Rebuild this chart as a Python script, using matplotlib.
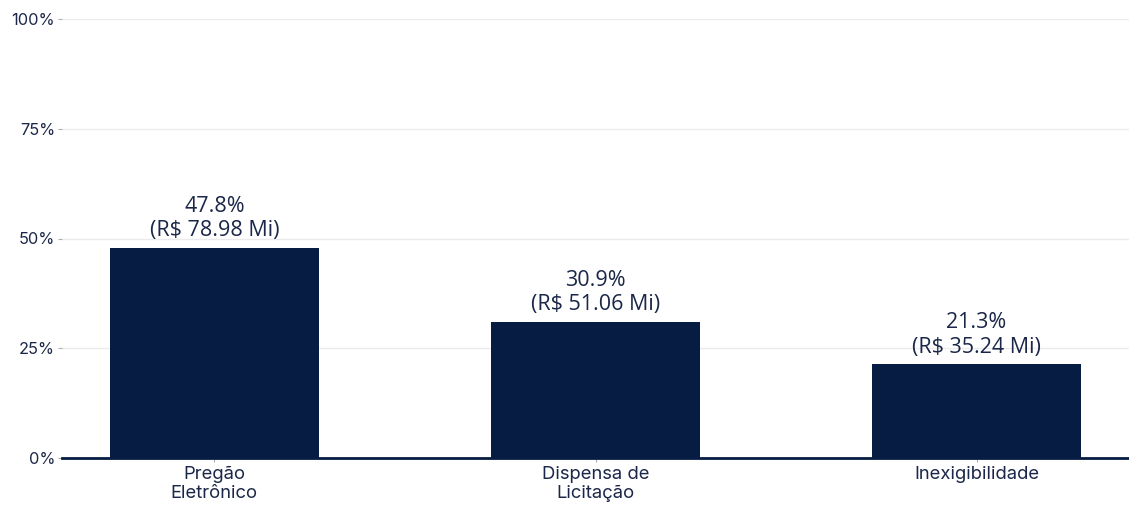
import matplotlib
matplotlib.use("Agg")
import matplotlib.pyplot as plt
from matplotlib.ticker import FuncFormatter

categories = ["Pregão\nEletrônico", "Dispensa de\nLicitação", "Inexigibilidade"]
shares = [47.8, 30.9, 21.3]
amounts_mi = [78.98, 51.06, 35.24]
yticks = [0, 25, 50, 75, 100]

navy = "#061c42"
text_col = "#1b2748"

fig = plt.figure(figsize=(11.29, 5.05), dpi=100)
ax = fig.add_axes([62 / 1129, 47 / 505, 1 - 62 / 1129, (458 - 19) / 505])

x = list(range(len(categories)))
ax.bar(x, shares, width=0.55, color=navy, zorder=3)

for xi, s, a in zip(x, shares, amounts_mi):
    ax.annotate(f"{s:.1f}%\n(R$ {a:.2f} Mi)", (xi, s), xytext=(0, 5),
                textcoords="offset points", ha="center", va="bottom",
                fontsize=15.5, color=text_col, family="Open Sans",
                linespacing=1.2, zorder=4)

ax.set_xlim(-0.4, 2.4)
ax.set_ylim(0, 100)
ax.set_yticks(yticks)
ax.yaxis.set_major_formatter(FuncFormatter(lambda v, p: f"{v:.0f}%"))
ax.set_xticks(x)
ax.set_xticklabels(categories, fontsize=13.3, color=text_col, family="Inter",
                   linespacing=1.15)

ax.grid(axis="y", color="#ebebeb", linewidth=1, zorder=0)
for side in ["top", "right", "left"]:
    ax.spines[side].set_visible(False)
ax.spines["bottom"].set_color(navy)
ax.spines["bottom"].set_linewidth(2)
ax.spines["bottom"].set_zorder(5)

ax.tick_params(axis="y", length=3, color="#b0b0b0", labelsize=11.8,
               labelcolor=text_col, pad=2)
for lbl in ax.get_yticklabels():
    lbl.set_family("Inter")
ax.tick_params(axis="x", length=3, color="#b0b0b0", pad=3)

fig.savefig("out.png", dpi=100, facecolor="white")
